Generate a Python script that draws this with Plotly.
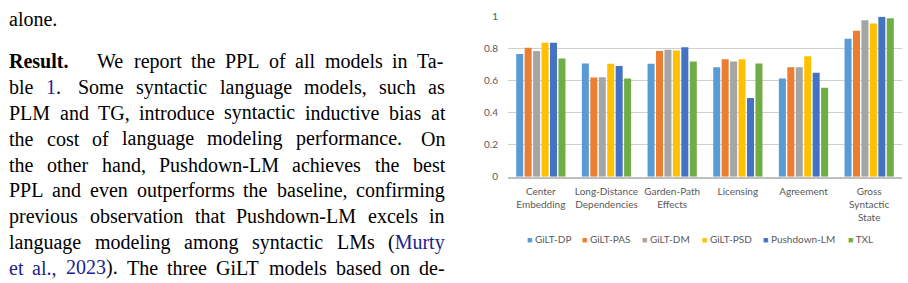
import plotly.graph_objects as go

W, H = 908, 283

categories = ["Center Embedding", "Long-Distance Dependencies", "Garden-Path Effects",
              "Licensing", "Agreement", "Gross Syntactic State"]
tick_labels = ["Center<br>Embedding", "Long-Distance<br>Dependencies", "Garden-Path<br>Effects",
               "Licensing", "Agreement", "Gross<br>Syntactic<br>State"]
y_ticks = [0, 0.2, 0.4, 0.6, 0.8, 1]

models = ["GiLT-DP", "GiLT-PAS", "GiLT-DM", "GiLT-PSD", "Pushdown-LM", "TXL"]
gilt_dp = [0.767, 0.707, 0.705, 0.683, 0.613, 0.861]
gilt_pas = [0.805, 0.619, 0.785, 0.733, 0.683, 0.911]
gilt_dm = [0.785, 0.621, 0.793, 0.719, 0.683, 0.977]
gilt_psd = [0.837, 0.705, 0.789, 0.733, 0.753, 0.957]
pushdown_lm = [0.837, 0.691, 0.809, 0.491, 0.649, 0.999]
txl = [0.739, 0.613, 0.719, 0.707, 0.555, 0.989]
series = [gilt_dp, gilt_pas, gilt_dm, gilt_psd, pushdown_lm, txl]
colors = ["#5B9BD5", "#ED7D31", "#A5A5A5", "#FFC000", "#4472C4", "#70AD47"]

BLUE = "#22228f"
# paper text: each line is a list of (word, display-markup, bold)
paper_lines = [
    [("alone.", "alone.", False)],
    [("Result.", "<b>Result.</b>", True), ("We", None, False), ("report", None, False),
     ("the", None, False), ("PPL", None, False), ("of", None, False), ("all", None, False),
     ("models", None, False), ("in", None, False), ("Ta-", None, False)],
    [("ble", None, False), ("1.", f"<span style='color:{BLUE}'>1</span>.", False),
     ("Some", None, False), ("syntactic", None, False), ("language", None, False),
     ("models,", None, False), ("such", None, False), ("as", None, False)],
    "PLM and TG, introduce syntactic inductive bias at",
    "the cost of language modeling performance. On",
    "the other hand, Pushdown-LM achieves the best",
    "PPL and even outperforms the baseline, confirming",
    "previous observation that Pushdown-LM excels in",
    [("language", None, False), ("modeling", None, False), ("among", None, False),
     ("syntactic", None, False), ("LMs", None, False),
     ("(Murty", f"(<span style='color:{BLUE}'>Murty</span>", False)],
    [("et", f"<span style='color:{BLUE}'>et</span>", False),
     ("al.,", f"<span style='color:{BLUE}'>al.,</span>", False),
     ("2023).", f"<span style='color:{BLUE}'>2023</span>).", False),
     ("The", None, False), ("three", None, False), ("GiLT", None, False),
     ("models", None, False), ("based", None, False), ("on", None, False), ("de-", None, False)],
]
paper_baselines = [20.7] + [64.3 + 26.875 * i for i in range(9)]
justify = [False] + [True] * 9
heading_gap = [None, 28.5, None, None, None, None, None, None, None, None]

# Times-compatible advance widths (per 1000 em) for Liberation Serif
REG = {' ': 250, 'a': 444, 'b': 500, 'c': 444, 'd': 500, 'e': 444, 'f': 333, 'g': 500, 'h': 500,
       'i': 278, 'j': 278, 'k': 500, 'l': 278, 'm': 778, 'n': 500, 'o': 500, 'p': 500, 'q': 500,
       'r': 333, 's': 389, 't': 278, 'u': 500, 'v': 500, 'w': 722, 'x': 500, 'y': 500, 'z': 444,
       'A': 722, 'B': 667, 'C': 667, 'D': 722, 'E': 611, 'F': 556, 'G': 722, 'H': 722, 'I': 333,
       'J': 389, 'K': 722, 'L': 611, 'M': 889, 'N': 722, 'O': 722, 'P': 556, 'Q': 722, 'R': 667,
       'S': 556, 'T': 611, 'U': 722, 'V': 722, 'W': 944, 'X': 722, 'Y': 722, 'Z': 611,
       '.': 250, ',': 250, '-': 333, '(': 333, ')': 333, '0': 500, '1': 500, '2': 500, '3': 500}
BOLD = {'R': 722, 'e': 444, 's': 389, 'u': 556, 'l': 278, 't': 333, '.': 250}
FS = 20
BASE_TO_MID = (0.891 - 0.216) / 2 * FS  # baseline offset from text box centre


def wwidth(word, bold):
    table = BOLD if bold else REG
    return sum(table.get(c, 500) for c in word) * FS / 1000.0


def sentence_end(word):
    return word.endswith(".") and not word.endswith(").")


fig = go.Figure()
for name, vals, col in zip(models, series, colors):
    fig.add_trace(go.Bar(x=categories, y=vals, name=name, marker_color=col,
                         marker_line_width=0, showlegend=False))

x0, x1 = 508, 902
ytop, ybot = 11, 177.7
fig.update_layout(
    width=W, height=H,
    margin=dict(l=0, r=0, t=0, b=0),
    paper_bgcolor="white", plot_bgcolor="white",
    barmode="group", bargap=0.228, bargroupgap=0.17,
    font=dict(family="Lato", size=10, color="#595959"),
    xaxis=dict(domain=[x0 / W, x1 / W], tickvals=categories, ticktext=tick_labels,
               showgrid=False, showline=True, linecolor="#bfbfbf", linewidth=1.5,
               ticks="", tickfont=dict(size=10, color="#595959"), ticklabelstandoff=4),
    yaxis=dict(domain=[1 - ybot / H, 1 - ytop / H], range=[0, 1], tickvals=y_ticks,
               showgrid=True, gridcolor="#d0d0d0", gridwidth=1, zeroline=False,
               showline=False, ticks="", tickfont=dict(size=10, color="#595959"),
               ticklabelstandoff=9),
)

# Paper text on the left, justified between x=7 and x=443 with TeX-like glue
TX0, TX1 = 7, 443
for line, base, just, hg in zip(paper_lines, paper_baselines, justify, heading_gap):
    if isinstance(line, str):
        words = [(w, None, False) for w in line.split(" ")]
    else:
        words = line
    widths = [wwidth(w, b) for w, _, b in words]
    ngaps = len(words) - 1
    nat, stretch = [], []
    for i in range(ngaps):
        w = words[i][0]
        if i == 0 and hg is not None:
            nat.append(hg); stretch.append(0.0)
        elif sentence_end(w):
            nat.append(FS * 0.33); stretch.append(FS * 0.125 * 1.5)
        else:
            nat.append(FS * 0.25); stretch.append(FS * 0.125)
    if just and ngaps > 0:
        r = (TX1 - TX0 - sum(widths) - sum(nat)) / sum(stretch)
        gaps = [n + r * s for n, s in zip(nat, stretch)]
    else:
        gaps = nat
    x = TX0
    yc = base - BASE_TO_MID
    for i, ((w, markup, b), wd) in enumerate(zip(words, widths)):
        fig.add_annotation(xref="paper", yref="paper", x=x / W, y=1 - yc / H,
                           xanchor="left", yanchor="middle", showarrow=False,
                           text=markup if markup else w,
                           font=dict(family="Liberation Serif", size=FS, color="black"))
        if i < ngaps:
            x += wd + gaps[i]

# Legend drawn as text items under the chart
legend_x = [525, 580, 640, 700, 761, 846]
for name, col, lx in zip(models, colors, legend_x):
    fig.add_annotation(xref="paper", yref="paper", x=lx / W, y=1 - 242 / H,
                       xanchor="left", yanchor="middle", showarrow=False,
                       text=f"<span style='color:{col};font-size:9px'>■</span> {name}",
                       font=dict(family="Lato", size=10, color="#595959"))

fig.write_html("out.html")
